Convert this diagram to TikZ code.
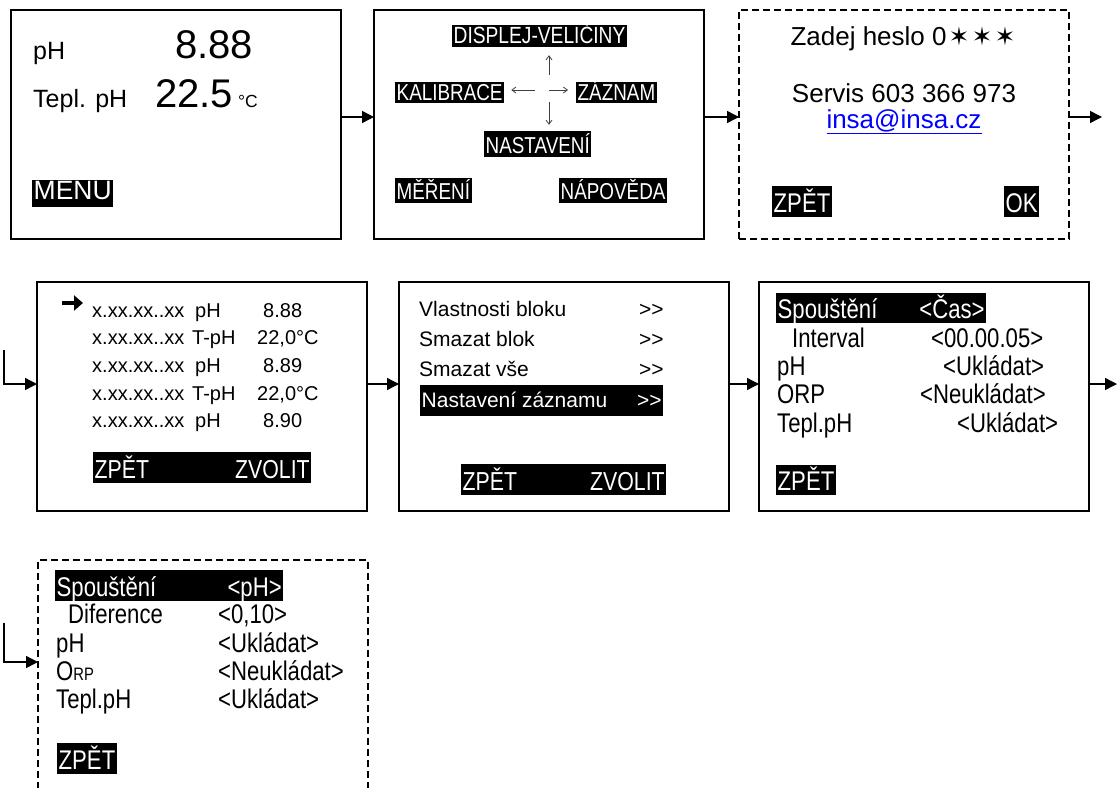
\documentclass[tikz,border=0pt]{standalone}
\usepackage{fontspec}
\setmainfont{Liberation Sans}
\newfontfamily\narrowfont[FakeStretch=0.82]{Liberation Sans}
\newfontfamily\symbolfont{DejaVu Sans}
\usetikzlibrary{positioning,arrows.meta}
\newcommand\fsize[1]{\fontsize{#1}{#1}\selectfont}
\newcommand\gtgt{>\kern0pt>}
\newcommand\pwstar{{\symbolfont\fsize{25}✶}}

\begin{document}
\begin{tikzpicture}[x=1pt, y=-1pt,
    screen/.style={draw, line width=1.5pt, minimum width=330pt, minimum height=229pt,
                   inner sep=0pt, outer sep=0pt, anchor=north west},
    dscreen/.style={screen, dash pattern=on 7pt off 4pt},
    txt/.style={anchor=base west, inner sep=0pt},
    ctxt/.style={anchor=base, inner sep=0pt},
    hl/.style 2 args={anchor=base west, fill=black, text=white, inner xsep=1.5pt,
                      inner ysep=0pt, text height=#1pt, text depth=#2pt},
    flow/.style={-{Triangle[length=12pt,width=12pt]}, line width=1.4pt},
    pointer/.style={-{Straight Barb[length=4pt,width=6pt]}, black!75, line width=0.8pt},
    cursorarrow/.style={-{Triangle[length=9pt,width=15pt]}, line width=4pt}
]
\useasboundingbox (0,0) rectangle (1118,787);
\clip (0,0) rectangle (1118,787);

% screens
\node[screen] (scr1) at (11,10) {};
\node[screen, right=33pt of scr1] (scr2) {};
\node[dscreen, right=35pt of scr2] (scr3) {};
\node[screen] (scr4) at (37,282) {};
\node[screen, right=32pt of scr4] (scr5) {};
\node[screen, right=30pt of scr5] (scr6) {};
\node[dscreen] (scr7) at (38,560) {};

% measuring screen
\begin{scope}[shift={(scr1.north west)}, every node/.append style={font=\fsize{25}}]
\node[txt] (phlbl) at (22,49) {pH};
\node[txt, font=\fsize{40}] (phval) at (164,48) {8.88};
\node[txt] (templbl) at (22,97) {Tepl. pH};
\node[txt, font=\fsize{40}] (tempval) at (144,97) {22.5};
\node[txt, font=\fsize{17.5}] (tempunit) at (227,97) {°C};
\node[hl={19}{8}, font=\fsize{26.5}] (menu) at (21,189) {MENU};
\end{scope}

% main menu
\begin{scope}[shift={(scr2.north west)}, every node/.append style={font=\narrowfont\fsize{23}}]
\node[hl={18}{4}, font=\narrowfont\fsize{23.4}] (disp) at (78,33) {DISPLEJ-VELIČINY};
\node[hl={18}{3}] (kal) at (21,90) {KALIBRACE};
\node[hl={18}{3}] (zaz) at (202,90) {ZÁZNAM};
\node[hl={22}{4}] (nast) at (110,143) {NASTAVENÍ};
\node[hl={21}{4}] (mer) at (21,189) {MĚŘENÍ};
\node[hl={21}{4}] (napo) at (185,189) {NÁPOVĚDA};
\coordinate (hub) at (175,80);
\end{scope}
\draw[pointer, shorten <=14pt, shorten >=7pt] (hub) -- (hub -| kal.east);
\draw[pointer, shorten >=8pt] (hub) -- (hub -| zaz.west);
\draw[pointer, shorten <=15pt, shorten >=8pt] (hub) -- (hub |- disp.south);
\draw[pointer, shorten <=12pt, shorten >=6pt] (hub) -- (hub |- nast.north);

% password
\begin{scope}[shift={(scr3.north west)}, every node/.append style={font=\fsize{26}}]
\node[ctxt] (heslo) at (164,35)
  {Zadej heslo 0\kern2pt\pwstar\kern2pt\pwstar\kern2pt\pwstar};
\node[ctxt] (servis) at (165,92) {Servis 603 366 973};
\node[ctxt] (mail) at (165,118) {\textcolor{blue}{\underline{insa@insa.cz}}};
\node[hl={26}{5}, font=\narrowfont\fsize{27}] (back3) at (33,202) {ZPĚT};
\node[hl={26}{5}, font=\narrowfont\fsize{27}] (ok3) at (265,202) {OK};
\end{scope}

% record list
\begin{scope}[shift={(scr4.north west)}, every node/.append style={font=\fsize{20}}]
\coordinate (cursor) at (25,21);
\node[txt] (r1) at (55,35) {x.xx.xx..xx};
\node[txt] (r2) at (55,62.5) {x.xx.xx..xx};
\node[txt] (r3) at (55,90) {x.xx.xx..xx};
\node[txt] (r4) at (55,118) {x.xx.xx..xx};
\node[txt] (r5) at (55,145.5) {x.xx.xx..xx};
\node[txt] (q1) at (158,35) {pH};
\node[txt] (q2) at (155,62.5) {T-pH};
\node[txt] (q3) at (158,90) {pH};
\node[txt] (q4) at (155,118) {T-pH};
\node[txt] (q5) at (158,145.5) {pH};
\node[txt] (v1) at (226,35) {8.88};
\node[txt] (v2) at (220,62.5) {22,0°C};
\node[txt] (v3) at (226,90) {8.89};
\node[txt] (v4) at (220,118) {22,0°C};
\node[txt] (v5) at (226,145.5) {8.90};
\node[hl={26}{5}, font=\narrowfont\fsize{26}] (bar4) at (56,196)
  {\makebox[215pt]{ZPĚT\hfill ZVOLIT}};
\end{scope}
\draw[cursorarrow] (cursor) -- ++(21,0);

% record menu
\begin{scope}[shift={(scr5.north west)}, every node/.append style={font=\fsize{21}}]
\node[txt] (m1) at (20,34) {Vlastnosti bloku};
\node[txt] (m2) at (20,64) {Smazat blok};
\node[txt] (m3) at (20,94) {Smazat vše};
\node[txt] (g1) at (240,34) {\gtgt};
\node[txt] (g2) at (240,64) {\gtgt};
\node[txt] (g3) at (240,94) {\gtgt};
\node[hl={22}{9}] (m4) at (21,125) {\makebox[240pt]{Nastavení záznamu\hfill\gtgt}};
\node[hl={26}{5}, font=\narrowfont\fsize{26}] (bar5) at (62,208)
  {\makebox[202pt]{ZPĚT\hfill ZVOLIT}};
\end{scope}

% record settings, time
\begin{scope}[shift={(scr6.north west)}, every node/.append style={font=\narrowfont\fsize{27}}]
\node[hl={25}{5}] (trig6) at (17,36) {\makebox[207pt]{Spouštění\hfill<Čas>}};
\node[txt] (int6) at (33,65) {Interval};
\node[txt] (intv6) at (172,65) {<00.00.05>};
\node[txt] (ph6) at (18,93) {pH};
\node[txt] (phv6) at (184,93) {<Ukládat>};
\node[txt] (orp6) at (18,121) {ORP};
\node[txt] (orpv6) at (161,121) {<Neukládat>};
\node[txt] (tph6) at (18,150) {Tepl.pH};
\node[txt] (tphv6) at (198,150) {<Ukládat>};
\node[hl={25}{5}] (back6) at (17,208) {ZPĚT};
\end{scope}

% record settings, pH
\begin{scope}[shift={(scr7.north west)}, every node/.append style={font=\narrowfont\fsize{27}}]
\node[hl={26}{5}] (trig7) at (17,36) {\makebox[225pt]{Spouštění\hfill<pH>}};
\node[txt] (dif7) at (30,63) {Diference};
\node[txt] (difv7) at (180,63) {<0,10>};
\node[txt] (ph7) at (18,92) {pH};
\node[txt] (phv7) at (180,92) {<Ukládat>};
\node[txt] (orp7) at (18,120) {O{\fsize{18}RP}};
\node[txt] (orpv7) at (180,120) {<Neukládat>};
\node[txt] (tph7) at (18,148) {Tepl.pH};
\node[txt] (tphv7) at (180,148) {<Ukládat>};
\node[hl={26}{5}] (back7) at (19,209) {ZPĚT};
\end{scope}

% flow between screens
\coordinate (out1) at (1102,117);
\coordinate (in2) at (4,350);
\coordinate (out2) at (1117,384);
\coordinate (in3) at (4,623);
\draw[flow] ([yshift=7.5pt]scr1.east) -- ([yshift=7.5pt]scr1.east -| scr2.west);
\draw[flow] ([yshift=7.5pt]scr2.east) -- ([yshift=7.5pt]scr2.east -| scr3.west);
\draw[flow] (scr3.east |- out1) -- (out1);
\draw[flow] (in2) |- ([yshift=12.5pt]scr4.west);
\draw[flow] ([yshift=12.5pt]scr4.east) -- ([yshift=12.5pt]scr4.east -| scr5.west);
\draw[flow] ([yshift=12.5pt]scr5.east) -- ([yshift=12.5pt]scr5.east -| scr6.west);
\draw[flow] (scr6.east |- out2) -- (out2);
\draw[flow] (in3) |- ([yshift=12.5pt]scr7.west);

\end{tikzpicture}
\end{document}
